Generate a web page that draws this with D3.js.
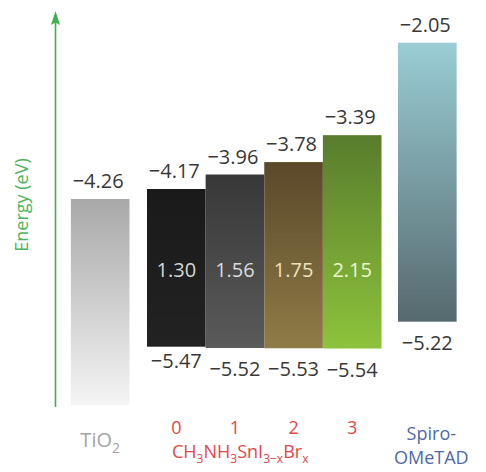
<!DOCTYPE html>
<html>
<head>
  <meta charset="utf-8">
  <script src="https://cdn.jsdelivr.net/npm/d3@7"></script>
  <style>
    body { margin: 0; background: #fff; }
    text { font-family: "Open Sans", sans-serif; }
  </style>
</head>
<body>
  <script>
    var width = 486;
    var height = 472;

    // band edges in eV, order: TiO2, x = 0..3, Spiro-OMeTAD
    var materials = ['TiO2', '0', '1', '2', '3', 'Spiro'];
    var lumo = [-4.26, -4.17, -3.96, -3.78, -3.39, -2.05];
    var homo = [null, -5.47, -5.52, -5.53, -5.54, -5.22];
    var bandGaps = [null, 1.30, 1.56, 1.75, 2.15, null];
    var brCounts = ['0', '1', '2', '3'];
    var formula = [['CH', 0], ['3', 1], ['NH', 0], ['3', 1], ['SnI', 0], ['3\u2212x', 1], ['Br', 0], ['x', 1]];

    // gradient colours (top, bottom) and the colour of the gap numbers
    var fills = [['#a8a8a8', '#f4f4f4'], ['#1a1a1a', '#222222'], ['#383838', '#5a5a5a'],
                 ['#5a482a', '#8e7c47'], ['#587c2c', '#8dc33c'], ['#9acdd5', '#55696e']];
    var gapColors = [null, '#d6d6d6', '#dadada', '#efe3bd', '#eef6cc'];

    var fmt = d3.format('.2f');

    var svg = d3.select('body')
          .append('svg')
          .attr('width', width)
          .attr('height', height);

    // the original diagram is schematic, so the energy scale is piecewise
    var y = d3.scaleLinear()
          .domain([-6, -5.54, -5.47, -5.22, -4.26, -4.17, -2.05])
          .range([407, 348.5, 346.7, 321.7, 199, 189, 42.7]);

    // perovskite bars sit side by side, the two contacts a little apart
    var xPerov = d3.scaleBand().domain(brCounts).range([147, 381.5]);
    var bw = xPerov.bandwidth();
    function xAt(i) {
      if (i === 0) return xPerov.range()[0] - 17.5 - bw;
      if (i === 5) return xPerov.range()[1] + 16.5;
      return xPerov(brCounts[i - 1]);
    }

    var defs = svg.append('defs');
    fills.forEach(function (f, i) {
      var g = defs.append('linearGradient')
          .attr('id', 'grad' + i)
          .attr('x1', 0).attr('y1', 0).attr('x2', 0).attr('y2', 1);
      g.append('stop').attr('offset', '0%').attr('stop-color', f[0]);
      g.append('stop').attr('offset', '100%').attr('stop-color', f[1]);
    });

    // energy arrow
    var green = '#3fb04e';
    svg.append('line')
        .attr('x1', 55.5).attr('x2', 55.5)
        .attr('y1', y(-6)).attr('y2', 22)
        .attr('stroke', green).attr('stroke-width', 1.6);
    svg.append('path')
        .attr('d', 'M55.5,11 L60,25 L55.5,22.5 L51,25 Z')
        .attr('fill', green);
    svg.append('text')
        .attr('transform', 'translate(28,205) rotate(-90)')
        .attr('text-anchor', 'middle')
        .attr('fill', '#4cb65c')
        .attr('font-size', 18)
        .text('Energy (eV)');

    // bars
    svg.append('g').selectAll('rect')
        .data(materials)
        .enter()
        .append('rect')
        .attr('x', function (d, i) { return xAt(i); })
        .attr('width', bw)
        .attr('y', function (d, i) { return y(lumo[i]); })
        .attr('height', function (d, i) {
          var bottom = homo[i] === null ? y(-6) - 2 : y(homo[i]);
          return bottom - y(lumo[i]);
        })
        .attr('fill', function (d, i) { return 'url(#grad' + i + ')'; });

    // LUMO labels
    svg.append('g').selectAll('text')
        .data(materials)
        .enter()
        .append('text')
        .attr('x', function (d, i) { return xAt(i) + bw / 2 - 2; })
        .attr('y', function (d, i) { return y(lumo[i]) - 11; })
        .attr('text-anchor', 'middle')
        .attr('font-size', 20)
        .attr('fill', '#383838')
        .text(function (d, i) { return fmt(lumo[i]); });

    // HOMO labels (first one raised a bit, as in the figure)
    svg.append('g').selectAll('text')
        .data(materials.filter(function (d, i) { return homo[i] !== null; }))
        .enter()
        .append('text')
        .attr('x', function (d) { var i = materials.indexOf(d); return xAt(i) + bw / 2; })
        .attr('y', function (d) {
          var i = materials.indexOf(d);
          return y(homo[i]) + (i === 1 ? 21 : 28);
        })
        .attr('text-anchor', 'middle')
        .attr('font-size', 20)
        .attr('fill', '#383838')
        .text(function (d) { return fmt(homo[materials.indexOf(d)]); });

    // band gap numbers inside the bars
    var gapY = (y(lumo[1]) + y(homo[1])) / 2 + 9;
    svg.append('g').selectAll('text')
        .data(brCounts)
        .enter()
        .append('text')
        .attr('x', function (d) { return xPerov(d) + bw / 2; })
        .attr('y', gapY)
        .attr('text-anchor', 'middle')
        .attr('font-size', 20)
        .attr('fill', function (d, i) { return gapColors[i + 1]; })
        .text(function (d, i) { return fmt(bandGaps[i + 1]); });

    // category labels
    var tio2 = svg.append('text')
        .attr('x', xAt(0) + bw / 2)
        .attr('y', 447)
        .attr('text-anchor', 'middle')
        .attr('font-size', 20)
        .attr('fill', '#a4a4a4');
    tio2.append('tspan').text('TiO');
    tio2.append('tspan').attr('font-size', 14).attr('dy', 6).text('2');

    var red = '#e5464a';
    svg.append('g').selectAll('text')
        .data(brCounts)
        .enter()
        .append('text')
        .attr('x', function (d) { return xPerov(d) + bw / 2; })
        .attr('y', 434)
        .attr('text-anchor', 'middle')
        .attr('font-size', 18)
        .attr('fill', red)
        .text(function (d) { return d; });

    var chem = svg.append('text')
        .attr('x', 172)
        .attr('y', 458)
        .attr('font-size', 18)
        .attr('fill', red);
    var shift = 0;
    formula.forEach(function (p) {
      var t = chem.append('tspan').text(p[0]);
      if (p[1]) { t.attr('font-size', 12).attr('dy', 5 - shift); shift = 5; }
      else { t.attr('dy', -shift); shift = 0; }
    });

    var blue = '#4f68a8';
    var spiro = svg.append('text')
        .attr('y', 440)
        .attr('text-anchor', 'middle')
        .attr('font-size', 18)
        .attr('fill', blue);
    spiro.append('tspan').attr('x', xAt(5) + bw / 2 + 4).text('Spiro-');
    spiro.append('tspan').attr('x', xAt(5) + bw / 2 + 4).attr('dy', 24).text('OMeTAD');
  </script>
</body>
</html>
